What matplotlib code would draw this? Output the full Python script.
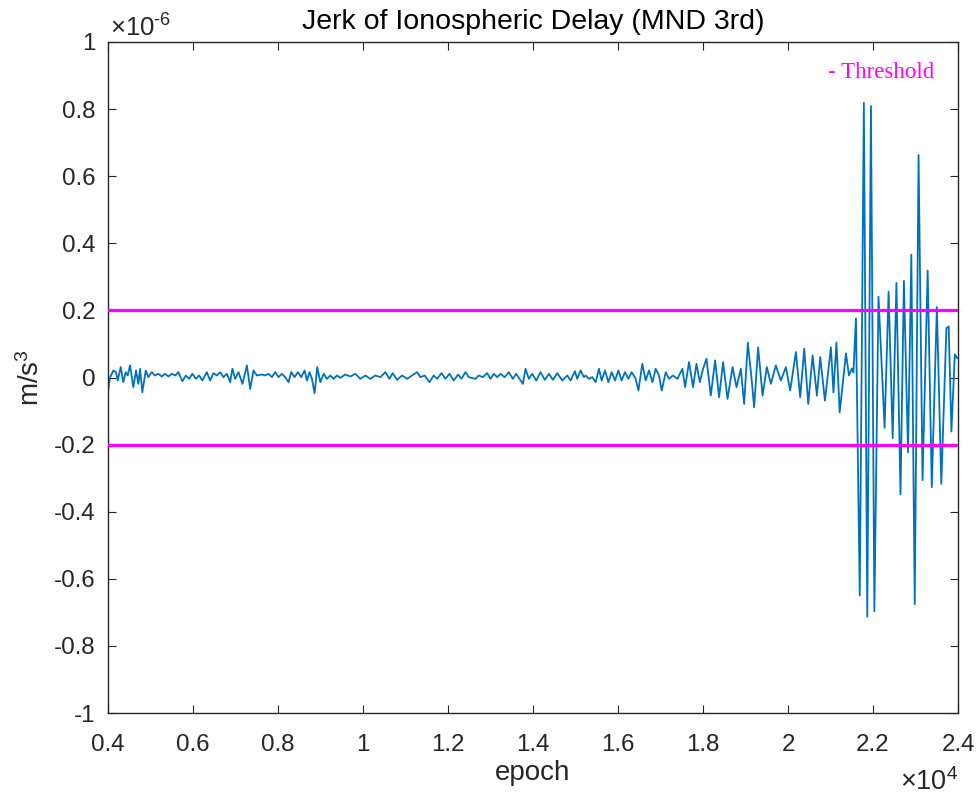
import numpy as np
import matplotlib
matplotlib.use("Agg")
import matplotlib.pyplot as plt
from matplotlib.ticker import FuncFormatter

plt.rcParams['font.family'] = ['Liberation Sans', 'DejaVu Sans']
plt.rcParams['mathtext.fontset'] = 'custom'
plt.rcParams['mathtext.rm'] = 'Liberation Sans'
plt.rcParams['mathtext.it'] = 'Liberation Sans:italic'
plt.rcParams['mathtext.default'] = 'regular'

# ---- data (turning points) ----
epoch = [
    4000, 4050, 4125, 4188, 4229, 4299, 4360, 4417, 4464, 4518, 4596, 4660, 4714, 4754, 4808,
    4888, 4949, 5030, 5107, 5185, 5265, 5343, 5421, 5501, 5579, 5656, 5750, 5831, 5908, 5986,
    6066, 6144, 6222, 6325, 6403, 6481, 6561, 6639, 6716, 6797, 6874, 6928, 6992, 7070, 7164,
    7268, 7346, 7423, 7503, 7621,
    7699, 7777, 7857, 7935, 8012, 8092, 8170, 8248, 8311, 8389, 8469, 8547, 8625, 8681, 8743,
    8799, 8860, 8924, 8995, 9073, 9153, 9230, 9308, 9388, 9466, 9584, 9702, 9819, 9937, 10055,
    10173, 10291, 10408, 10526, 10620, 10698, 10802, 10920, 11037, 11155, 11273, 11351, 11452,
    11563, 11664, 11744, 11845, 11940, 12034, 12135, 12239, 12317, 12411, 12489, 12646, 12724,
    12818, 12922, 13000, 13078, 13158, 13236, 13330, 13431, 13525, 13605, 13761, 13825, 13903,
    13983, 14077, 14178, 14279, 14374, 14468, 14571, 14689, 14807, 14885, 14986, 15040, 15120,
    15198, 15238, 15316, 15396, 15474, 15552, 15615, 15693, 15773, 15851, 15929, 16009, 16086,
    16164, 16244, 16322, 16416, 16480, 16572, 16652, 16730, 16810, 16887, 16965, 17029, 17123,
    17201, 17295, 17398, 17516, 17578, 17672, 17766, 17846, 17924, 18002, 18082, 18183, 18285,
    18379, 18473, 18577, 18695, 18789, 18890, 18968, 19055, 19142, 19203, 19297, 19401, 19502,
    19597, 19714, 19832, 19950, 20051, 20186, 20287, 20382, 20476, 20579, 20680, 20758, 20869,
    21010, 21069, 21140, 21216, 21364, 21434, 21505, 21540, 21599, 21688, 21785, 21865, 21952,
    22032, 22129, 22273, 22367, 22463, 22551, 22647, 22727, 22824, 22902, 22982, 23072, 23166,
    23286, 23383, 23503, 23607, 23727, 23781, 23845, 23925, 23981,
]
jerk_e6 = [
    -0.039, 0.000, 0.021, 0.016, -0.009, 0.031, -0.014, 0.016, 0.006, 0.036, -0.029, 0.021, -0.019, 0.026, -0.044,
    0.021, 0.001, 0.016, 0.006, 0.011, 0.003, 0.011, 0.003, 0.011, 0.006, 0.016, -0.011, 0.006, -0.004, 0.011,
    -0.004, 0.006, -0.009, 0.016, -0.009, 0.013, 0.006, 0.016, 0.001, 0.011, -0.014, 0.026, -0.004, 0.016, -0.019,
    0.036, -0.034, 0.021, 0.006, 0.009,
    0.006, 0.011, 0.001, 0.016, 0.001, 0.011, 0.001, -0.014, 0.016, 0.001, 0.016, 0.001, 0.021, -0.009, 0.016,
    -0.004, -0.047, 0.031, -0.014, 0.011, -0.004, 0.006, -0.004, 0.006, -0.001, 0.009, 0.003, 0.011, -0.004, 0.006,
    -0.004, 0.006, 0.001, 0.016, -0.004, 0.013, -0.007, 0.006, -0.004, 0.006, 0.016, 0.001, 0.006,
    -0.014, 0.006, -0.004, 0.013, -0.004, 0.011, -0.009, 0.009, -0.004, 0.016, 0.001, -0.004, 0.006,
    0.001, 0.013, -0.004, 0.011, 0.001, 0.011, 0.001, 0.016, -0.004, 0.011, -0.019, 0.026, -0.004,
    0.011, -0.009, 0.016, -0.007, 0.011, -0.007, 0.013, -0.009, 0.006, -0.009, 0.019, -0.004, 0.021,
    0.001, 0.006, -0.004, 0.001, -0.014, 0.026, -0.009, 0.021, -0.014, 0.016, -0.009, 0.021, -0.009,
    0.016, -0.004, 0.016, -0.004, -0.039, 0.041, -0.009, 0.021, -0.014, 0.026, 0.006, -0.039, 0.016,
    -0.004, 0.006, -0.004, 0.026, -0.029, 0.046, -0.029, 0.041, -0.014, 0.026, 0.056, -0.054, 0.051,
    -0.059, 0.046, -0.064, 0.031, -0.029, 0.026, -0.079, 0.104, -0.003, -0.089, 0.090, -0.054, 0.031,
    -0.019, 0.036, -0.009, 0.031, -0.039, 0.076, -0.059, 0.086, -0.079, 0.066, -0.054, 0.061, -0.069,
    0.090, -0.045, 0.104, -0.104, 0.072, 0.006, 0.027, 0.015, 0.176, -0.650, 0.819, -0.713, 0.809,
    -0.697, 0.241, -0.150, 0.256, -0.181, 0.282, -0.348, 0.288, -0.223, 0.366, -0.676, 0.663, -0.306,
    0.319, -0.327, 0.210, -0.317, 0.147, 0.152, -0.161, 0.069, 0.058,
]
threshold = 0.2e-6
x_ticks = [4000, 6000, 8000, 10000, 12000, 14000, 16000, 18000, 20000, 22000, 24000]
y_ticks_e6 = [-1, -0.8, -0.6, -0.4, -0.2, 0, 0.2, 0.4, 0.6, 0.8, 1]

jerk = np.array(jerk_e6) * 1e-6

# ---- figure ----
W, H = 977, 802
fig = plt.figure(figsize=(W / 100, H / 100), dpi=100)
L, R, T, B = 108, 958, 42, 713
ax = fig.add_axes([L / W, 1 - B / H, (R - L) / W, (B - T) / H])

ax.plot(epoch, jerk, color='#0072BD', lw=1.3, zorder=2)
ax.axhline(threshold, color='#FF00FF', lw=2.3, zorder=3)
ax.axhline(-threshold, color='#FF00FF', lw=2.3, zorder=3)

ax.set_xlim(4000, 24000)
ax.set_ylim(-1e-6, 1e-6)
ax.set_xticks(x_ticks)
ax.set_yticks([v * 1e-6 for v in y_ticks_e6])
ax.xaxis.set_major_formatter(FuncFormatter(lambda v, p: f"{round(v / 1e4, 4):g}"))
ax.yaxis.set_major_formatter(FuncFormatter(lambda v, p: f"{round(v / 1e-6, 4):g}"))

dark = '#262626'
for s in ax.spines.values():
    s.set_color(dark)
    s.set_linewidth(1.0)
ax.tick_params(direction='in', top=True, right=True, length=6, width=0.8,
               colors=dark, labelsize=17.4, pad=9)
ax.tick_params(axis='x', pad=15)

ax.set_xlabel('epoch', fontsize=20, color=dark, labelpad=3)
ax.set_ylabel('m/s$^3$', fontsize=20, color=dark, labelpad=6)

fig.text((L + R) / 2 / W, 1 - 22 / H, 'Jerk of Ionospheric Delay (MND 3rd)',
         ha='center', va='center', fontsize=20.5, color='black')
fig.text(110 / W, 1 - 28 / H, r'$\times10^{\text{-}6}$', ha='left', va='center',
         fontsize=18.5, color=dark)
fig.text(R / W, 1 - 782 / H, r'$\times10^{4}$', ha='right', va='center',
         fontsize=19.5, color=dark)
ax.text((828 - L) / (R - L), (B - 72) / (B - T), '- Threshold', transform=ax.transAxes,
        ha='left', va='center', fontsize=16.5, color='#FF00FF', family='Liberation Serif')

fig.savefig('out.png', dpi=100)
